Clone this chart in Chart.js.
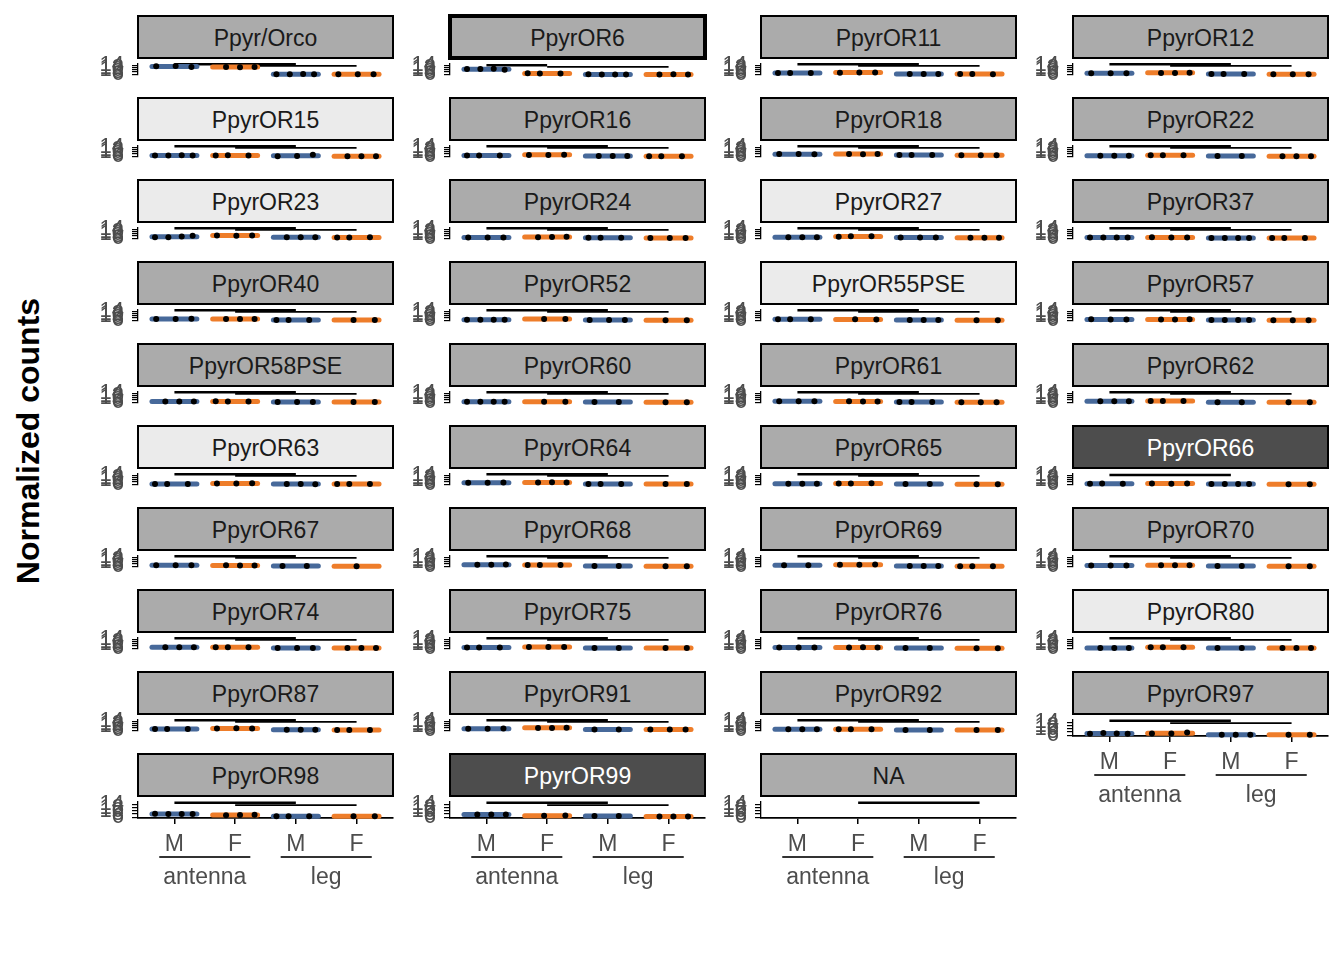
<!DOCTYPE html>
<html><head><meta charset="utf-8">
<script src="https://cdn.jsdelivr.net/npm/chart.js@4.4.1/dist/chart.umd.min.js"></script>
<style>
html,body{margin:0;padding:0;background:#fff;}
#root{position:relative;width:1344px;height:960px;overflow:hidden;font-family:"Liberation Sans",Arial,sans-serif;}
.strip{position:absolute;box-sizing:border-box;border:2px solid #000;display:flex;align-items:center;justify-content:center;font-size:23px;color:#1a1a1a;white-space:nowrap;padding-top:3px;}
canvas{position:absolute;}
#ytitle{position:absolute;width:400px;height:32px;line-height:32px;font-size:32px;font-weight:bold;text-align:center;color:#000;left:-172px;top:425px;transform:rotate(-90deg);white-space:nowrap;}
</style></head><body><div id="root"><div id="ytitle">Normalized counts</div></div>
<script>
const genes = ["Ppyr/Orco","PpyrOR6","PpyrOR11","PpyrOR12","PpyrOR15","PpyrOR16","PpyrOR18","PpyrOR22",
"PpyrOR23","PpyrOR24","PpyrOR27","PpyrOR37","PpyrOR40","PpyrOR52","PpyrOR55PSE","PpyrOR57",
"PpyrOR58PSE","PpyrOR60","PpyrOR61","PpyrOR62","PpyrOR63","PpyrOR64","PpyrOR65","PpyrOR66",
"PpyrOR67","PpyrOR68","PpyrOR69","PpyrOR70","PpyrOR74","PpyrOR75","PpyrOR76","PpyrOR80",
"PpyrOR87","PpyrOR91","PpyrOR92","PpyrOR97","PpyrOR98","PpyrOR99","NA"];
const stripTone = ["mid","mid","mid","mid","light","mid","mid","mid",
"light","mid","light","mid","mid","mid","light","mid",
"mid","mid","mid","mid","light","mid","mid","dark",
"mid","mid","mid","mid","mid","mid","mid","light",
"mid","mid","mid","mid","mid","dark","mid"];
const xTickLabels = ["M","F","M","F"];
const groupLabels = ["antenna","leg"];
const yTicks = [6,8,10,12,14];

const antennaM = [[13.1,13.4,12.5],[10.6,10.6,11.0,10.1],[7.2,7.1,7.2],[6.9,7.0,6.9],
[6.6,6.7,6.8,6.7],[6.7,6.7,6.7],[7.9,7.9,7.8],[6.4,6.5,6.5],
[6.9,7.0,7.6,8.3],[6.7,6.7,6.7],[6.9,6.9,7.0],[6.7,6.7,6.7,6.7],
[7.2,7.1,7.3],[6.5,6.4,6.4,6.5],[6.9,6.9,6.9],[6.8,6.7,6.7],
[6.7,6.7,6.7],[6.5,6.5,6.5,6.5],[6.9,6.9,7.0],[7.0,6.9,6.9],
[6.2,6.2,6.3],[7.4,7.4,7.5],[6.5,6.5,6.5],[6.5,6.6,6.5],
[6.9,7.0,6.9],[7.4,7.4,7.5],[6.9,6.9],[6.7,6.7,6.7],
[6.9,6.9,7.0],[6.7,6.7,6.7],[6.7,6.7,6.7],[6.2,6.2,6.3],
[7.2,7.2,7.1],[7.4,7.4,7.5],[6.9,6.9,7.0],[6.9,7.3,7.1,6.9],
[8.1,8.0,8.0,8.0],[7.7,7.6,7.7],[]];
const antennaF = [[12.5,12.3,12.4],[6.8,6.7,6.7],[7.4,7.5,7.6],[7.2,7.2,7.3],
[6.7,6.8,6.7],[7.1,7.2,7.4],[8.1,7.8,7.9],[6.9,6.9,7.0],
[8.4,8.3,8.4],[7.0,7.2,7.4],[7.4,7.7,7.8],[6.8,6.7,6.7],
[7.2,7.1,7.2],[7.2,7.2],[6.8,6.7],[6.7,6.7,6.8],
[6.8,6.7,6.7],[6.5,6.5],[6.8,6.7,6.7],[7.2,7.1,7.2],
[6.7,6.7,6.8],[7.6,7.7,7.6],[6.7,6.7,6.8],[6.7,6.5,6.6],
[6.8,6.7,6.7],[7.2,7.2,7.1],[7.3,7.4,7.5],[6.9,7.0,6.9],
[6.9,6.9,7.0],[7.1,7.2,7.2],[6.7,6.8,6.7],[6.9,6.9,7.0],
[7.5,7.7,7.6],[8.1,8.1,8.2],[6.9,7.0,6.9],[7.1,7.1,7.6],
[7.2,7.3,7.5],[6.9,7.0],[]];
const legM = [[6.0,6.1,6.3,5.9],[5.9,5.85,5.8,5.85],[6.2,6.2,6.3],[6.2,6.3,6.2],
[6.1,6.2,7.3],[6.2,6.3,6.2],[7.2,7.1,7.2],[6.2,6.2],
[6.9,7.0,6.9],[6.5,6.5,6.4],[6.7,6.7,6.7],[6.2,6.2,6.2,6.2],
[6.2,6.2,6.3],[6.2,6.2,6.2],[6.2,6.2,6.2],[6.2,6.2,6.2,6.2],
[6.2,6.2,6.2],[6.2,6.2],[6.2,6.2,6.2],[6.0,6.0],
[6.2,6.2,6.1],[6.2,6.2,6.2],[6.2,6.2],[6.2,6.2,6.2,6.2],
[6.2,6.2],[6.2,6.2],[6.2,6.2,6.2],[6.2,6.2],
[6.2,6.2,6.2],[6.2,6.2],[6.2,6.2],[6.2,6.2],
[6.5,6.5,6.4],[6.7,6.7],[6.2,6.2],[6.3,6.3,6.3],
[6.6,6.6,6.6],[6.7,6.7],[]];
const legF = [[6.0,6.0,5.9],[5.85,5.9,5.8],[6.2,6.2,6.1],[6.0,6.1,6.0],
[6.0,6.0,6.0],[6.0,6.1,5.9],[6.9,6.9,7.0],[6.0,6.1,6.0],
[6.7,6.7,6.8],[6.2,6.3,6.3],[6.5,6.4,6.5],[6.2,6.2,6.2],
[6.2,6.2],[6.0,6.0],[6.0,6.0],[6.0,6.0,6.0],
[6.2,6.2],[6.0,6.0],[6.0,6.0,6.0],[6.0,6.0],
[6.2,6.2,6.2],[6.2,6.2],[6.0,6.0],[6.0,6.0],
[6.0],[6.0,6.0],[6.0,6.0,6.0],[6.0,6.0],
[6.2,6.2,6.2],[6.2,6.2],[6.0,6.0],[6.2,6.2,6.2],
[6.2,6.2,6.2],[6.7,6.7,6.7],[6.2,6.2],[6.3,6.3],
[6.6,6.6],[6.5,6.5,6.5],[]];

// significance brackets: [fromGroup, toGroup, level]
const stdBrackets = [[1,3,14.9],[2,4,13.5]];
const brackets = genes.map((g,i)=> i===1 ? [[1,2,14.0],[2,4,12.6]] : i===23 ? [[1,3,14.2]] : i===38 ? [[2,4,14.9]] : stdBrackets);

const groupColors = ["#47699A","#EE7D2A","#47699A","#EE7D2A"];
const colLeft = [138,450,761,1073];
const panelW = 255, panelH = 22, stripH = 42, rowPitch = 82, firstT = 58;
const FONT = '"Liberation Sans", Arial, sans-serif';
const jitter = {1:[[0]],2:[[-0.22,0.18],[-0.05,0.3]],3:[[-0.3,0.02,0.28],[-0.15,0.08,0.32],[-0.32,-0.12,0.22]],4:[[-0.32,-0.1,0.12,0.3],[-0.28,0.0,0.08,0.33]]};

const nestedAxis = {
  id:'nestedAxis',
  afterDraw(chart){
    if(!chart.$bottom) return;
    const ctx = chart.ctx, xs = chart.scales.x, yb = chart.chartArea.bottom;
    ctx.save();
    groupLabels.forEach((g,k)=>{
      const a = xs.getPixelForValue(k*2+1-0.25), b = xs.getPixelForValue(k*2+2+0.25);
      ctx.strokeStyle = '#333'; ctx.lineWidth = 2;
      ctx.beginPath(); ctx.moveTo(a, yb+39); ctx.lineTo(b, yb+39); ctx.stroke();
      ctx.fillStyle = '#4D4D4D'; ctx.font = '23px ' + FONT;
      ctx.textAlign = 'center'; ctx.textBaseline = 'alphabetic';
      ctx.fillText(g, (a+b)/2, yb+66);
    });
    ctx.restore();
  }
};

const root = document.getElementById('root');
genes.forEach((name,i)=>{
  const col = i%4, row = Math.floor(i/4);
  const px = colLeft[col], T = firstT + row*rowPitch;
  const isBottom = i+4 >= genes.length;
  const bw = i===1 ? 4 : 2;
  const s = document.createElement('div');
  s.className = 'strip';
  s.textContent = name;
  const tone = stripTone[i];
  s.style.background = tone==='light' ? '#EBEBEB' : tone==='dark' ? '#4D4D4D' : '#ABABAB';
  if(tone==='dark') s.style.color = '#fff';
  s.style.borderWidth = bw+'px';
  s.style.left = (px - bw/2)+'px';
  s.style.top = (T - stripH - bw/2)+'px';
  s.style.width = (panelW + bw)+'px';
  s.style.height = (stripH + bw)+'px';
  const yW = 60, padT = 16, padR = 10, xAxisH = 40, extra = 60;
  const W = yW + panelW + padR;
  const H = padT + panelH + (isBottom ? xAxisH + extra : 16);
  const c = document.createElement('canvas');
  c.width = W; c.height = H;
  c.style.left = (px - yW)+'px'; c.style.top = (T - padT)+'px';
  c.style.width = W+'px'; c.style.height = H+'px';
  root.appendChild(c);
  root.appendChild(s);

  const groups = [antennaM[i], antennaF[i], legM[i], legF[i]];
  const datasets = [];
  brackets[i].forEach((b,k)=>{
    datasets.push({data:[{x:b[0],y:b[2]},{x:b[1],y:b[2]}], showLine:true, borderColor:'#000', borderWidth:k===0?2.5:1.8, pointRadius:0, order:3, clip:false});
  });
  groups.forEach((vals,g)=>{
    if(!vals.length) return;
    const mean = vals.reduce((a,b)=>a+b,0)/vals.length;
    datasets.push({data:[{x:g+1-0.37,y:mean},{x:g+1+0.37,y:mean}], showLine:true, borderColor:groupColors[g], borderWidth:5, borderCapStyle:'round', pointRadius:0, order:2, clip:false});
  });
  groups.forEach((vals,g)=>{
    if(!vals.length) return;
    const sets = jitter[vals.length];
    const off = sets[(i*4+g) % sets.length];
    datasets.push({data:vals.map((v,k)=>({x:g+1+off[k], y:v})), showLine:false, pointRadius:3, pointBackgroundColor:'#000', pointBorderWidth:0, order:1, clip:false});
  });

  const chart = new Chart(c, {
    type:'scatter',
    data:{datasets},
    options:{
      responsive:false, animation:false, devicePixelRatio:1,
      layout:{padding:{top:padT, bottom: isBottom ? extra : 16, left:0, right:padR}},
      plugins:{legend:{display:false}, tooltip:{enabled:false}},
      events:[],
      scales:{
        x:{type:'linear', min:0.4, max:4.6, display:isBottom,
          afterBuildTicks:(sc)=>{ sc.ticks = xTickLabels.map((_,k)=>({value:k+1})); },
          afterFit:(sc)=>{ sc.height = isBottom ? xAxisH : 0; },
          ticks:{autoSkip:false, maxRotation:0, padding:7, color:'#4D4D4D', font:{family:FONT, size:23},
            callback:(v)=> xTickLabels[Math.round(v)-1] || ''},
          grid:{drawOnChartArea:false, tickLength:6, color:'#000', lineWidth:1.5},
          border:{display:true, color:'#000', width:1.8}
        },
        y:{type:'linear', min:5.5, max:15.9,
          afterBuildTicks:(sc)=>{ sc.ticks = yTicks.map(v=>({value:v})); },
          afterFit:(sc)=>{ sc.width = yW; },
          ticks:{autoSkip:false, padding:8, color:'#4D4D4D', font:{family:FONT, size:22}, callback:(v)=>String(v)},
          grid:{drawOnChartArea:false, tickLength:6, color:'#000', lineWidth:1.2},
          border:{display:true, color:'#000', width:1.3}
        }
      }
    },
    plugins:[nestedAxis]
  });
  chart.$bottom = isBottom;
  chart.draw();
});
</script></body></html>
